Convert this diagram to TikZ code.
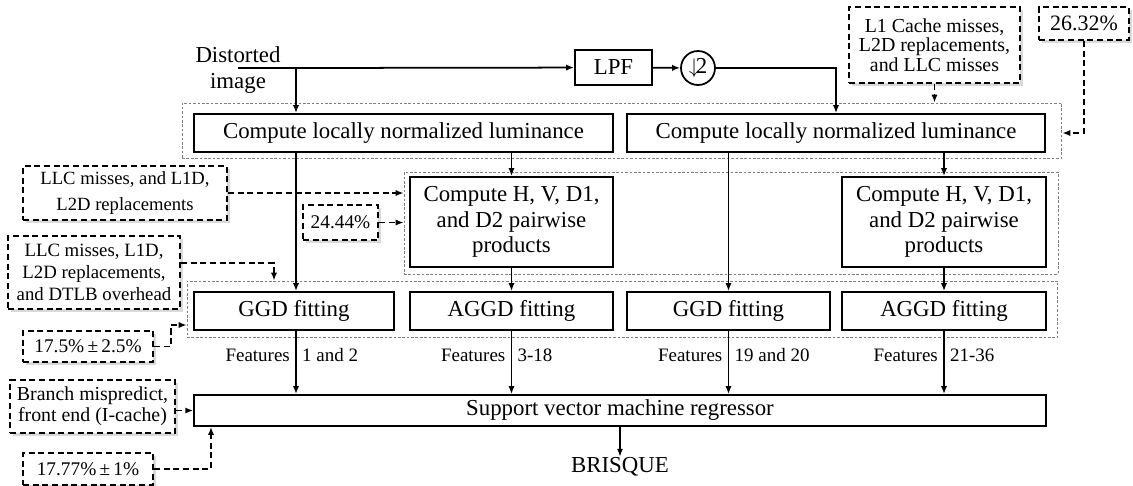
\documentclass[tikz,border=0pt]{standalone}
\usepackage{fontspec}
\setmainfont{Liberation Serif}
\usetikzlibrary{arrows.meta,shadows}

\tikzset{
  block/.style={draw,line width=1pt,fill=white,inner sep=0pt,align=center,font=\fontsize{13}{14.7}\selectfont},
  cue/.style={draw,line width=1.1pt,dash pattern=on 3.5pt off 2pt,fill=white,inner sep=0pt,align=center,
    font=\fontsize{11}{12.5}\selectfont,drop shadow={shadow xshift=1.5pt,shadow yshift=-1.5pt,opacity=.3}},
  group/.style={draw=gray,line width=.5pt,dash pattern=on 1.5pt off 1pt,inner sep=0pt},
  cueline/.style={->,line width=1.1pt,dash pattern=on 3.5pt off 2pt},
  feat/.style={font=\fontsize{10.8}{12}\selectfont,inner sep=3pt},
}

\begin{document}
\begin{tikzpicture}[x=0.02cm,y=-0.02cm,>={Latex[length=4.5pt,width=3.5pt]},line width=1pt]
  \useasboundingbox (0,0) rectangle (1133,485);
  % dotted frames round the stages
  \node[group,minimum width=17.6cm,minimum height=1.1cm] (gA) at (622,130.5) {};
  \node[group,minimum width=13.08cm,minimum height=2.04cm] (gB) at (731,223) {};
  \node[group,minimum width=17.42cm,minimum height=1.12cm] (gC) at (622.5,309) {};
  % input and first stage
  \node[align=center,font=\fontsize{13}{14.5}\selectfont,inner sep=0pt] (dist) at (238,70) {Distorted\\image};
  \node[block,minimum width=1.54cm,minimum height=.7cm] (lpf) at (613.5,67.5) {LPF};
  \node[draw,circle,line width=1pt,minimum size=.68cm,inner sep=0pt,font=\fontsize{13}{14}\selectfont] (down) at (698,68) {$\downarrow$\kern-2pt2};
  \node[block,minimum width=8.38cm,minimum height=.76cm] (lumA) at (403.5,133) {Compute locally normalized luminance};
  \node[block,minimum width=8.36cm,minimum height=.76cm] (lumB) at (836,133) {Compute locally normalized luminance};
  \node[block,minimum width=4.06cm,minimum height=1.8cm] (pairA) at (511.5,222) {Compute H, V, D1,\\and D2 pairwise\\products};
  \node[block,minimum width=4.08cm,minimum height=1.8cm] (pairB) at (944,222) {Compute H, V, D1,\\and D2 pairwise\\products};
  \node[block,minimum width=4.0cm,minimum height=.76cm] (ggdA) at (294,311) {GGD fitting};
  \node[block,minimum width=4.06cm,minimum height=.76cm] (aggdA) at (511.5,311) {AGGD fitting};
  \node[block,minimum width=4.06cm,minimum height=.76cm] (ggdB) at (728.5,311) {GGD fitting};
  \node[block,minimum width=4.08cm,minimum height=.76cm] (aggdB) at (944,311) {AGGD fitting};
  \node[block,minimum width=17.04cm,minimum height=.62cm] (svm) at (620,410.5) {Support vector machine regressor};
  \node[font=\fontsize{13}{14}\selectfont,inner sep=0pt] (brisque) at (620,467) {BRISQUE};
  % profiling notes
  \node[cue,minimum width=3.42cm,minimum height=1.52cm,font=\fontsize{11.3}{11.2}\selectfont] (cacheB) at (934.5,45) {L1 Cache misses,\\L2D replacements,\\and LLC misses};
  \node[cue,minimum width=1.8cm,minimum height=.66cm,font=\fontsize{12.5}{13}\selectfont] (shareB) at (1084,23.5) {26.32\%};
  \node[cue,minimum width=4.08cm,minimum height=1.08cm,font=\fontsize{10.6}{14.5}\selectfont] (cachePair) at (125,193) {LLC misses, and L1D,\\L2D replacements};
  \node[cue,minimum width=1.5cm,minimum height=.7cm] (sharePair) at (340.5,222.5) {24.44\%};
  \node[cue,minimum width=3.44cm,minimum height=1.46cm,font=\fontsize{10.7}{12.4}\selectfont] (cacheFit) at (94,272.5) {LLC misses, L1D,\\L2D replacements,\\and DTLB overhead};
  \node[cue,minimum width=2.6cm,minimum height=.62cm] (shareFit) at (88,346.5) {17.5\%\,±\,2.5\%};
  \node[cue,minimum width=3.3cm,minimum height=1.06cm,font=\fontsize{11.3}{12}\selectfont] (branch) at (92.5,406.5) {Branch mispredict,\\front end (I-cache)};
  \node[cue,minimum width=2.6cm,minimum height=.64cm] (shareSvm) at (88,469) {17.77\%\,±\,1\%};

  % signal path
  \coordinate (split) at (296,68);
  \draw (split -| dist) -- (split);
  \draw[->] (split) -- (lpf);
  \draw[->] (split) -- (split |- lumA.north);
  \draw[->] (lpf) -- (down);
  \draw[->] (down) -| (lumB.north);
  \draw[->] (lumA.south -| split) -- (split |- ggdA.north);
  \draw[->] (lumA.south -| pairA.north) -- (pairA);
  \draw[->] (lumB.south -| ggdB.north) -- (ggdB);
  \draw[->] (lumB.south -| pairB.north) -- (pairB);
  \draw[->] (pairA) -- (aggdA);
  \draw[->] (pairB) -- (aggdB);
  \draw[->] (ggdA.south -| split) -- (svm.north -| split)
    node[feat,pos=.38,left] {Features} node[feat,pos=.38,right] {1 and 2};
  \draw[->] (aggdA) -- (svm.north -| aggdA)
    node[feat,pos=.38,left] {Features} node[feat,pos=.38,right] {3-18};
  \draw[->] (ggdB) -- (svm.north -| ggdB)
    node[feat,pos=.38,left] {Features} node[feat,pos=.38,right] {19 and 20};
  \draw[->] (aggdB) -- (svm.north -| aggdB)
    node[feat,pos=.38,left] {Features} node[feat,pos=.38,right] {21-36};
  \draw[->] (svm) -- (brisque);

  % notes to the stages
  \draw[cueline] (cacheB) -- (gA.north -| cacheB);
  \draw[cueline] (shareB) |- (gA.east |- lumB.east);
  \draw[cueline] (cachePair) -- (gB.west |- cachePair);
  \draw[cueline] (sharePair) -- (gB.west |- sharePair);
  \draw[cueline] (cacheFit.east |- 0,263) -| (gC.north -| 274,0);
  \draw[cueline] (shareFit.east) -- ++(17,0) |- (gC.west |- 0,325);
  \draw[cueline] (branch.east |- svm.west) -- (svm.west);
  \draw[cueline] (shareSvm) -| (svm.south -| 211,0);
\end{tikzpicture}
\end{document}
